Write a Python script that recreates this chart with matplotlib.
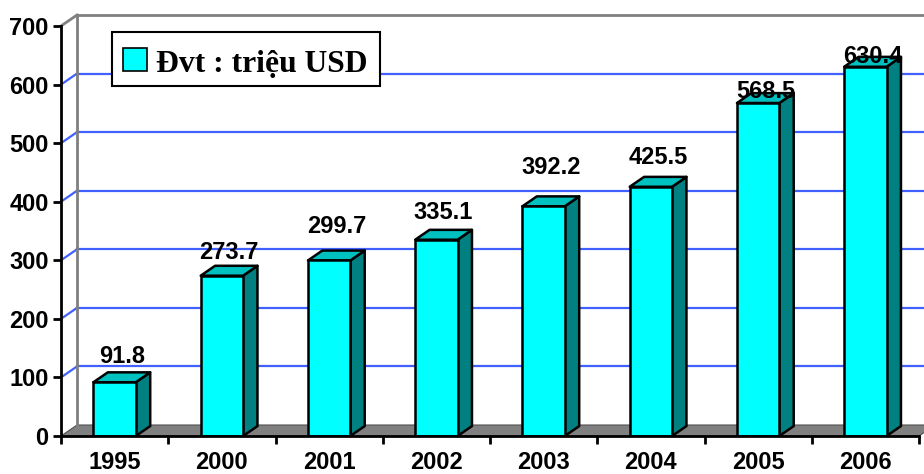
import matplotlib
matplotlib.use("Agg")
import matplotlib.pyplot as plt
from matplotlib.patches import Rectangle, Polygon

# ---- data ----
years = ["1995", "2000", "2001", "2002", "2003", "2004", "2005", "2006"]
values = [91.8, 273.7, 299.7, 335.1, 392.2, 425.5, 568.5, 630.4]
legend_label = "Đvt : triệu USD"
yticks = [0, 100, 200, 300, 400, 500, 600, 700]

# ---- style ----
W, H = 924, 474
FRONT = "#00FFFF"
TOP = "#00C0C0"
SIDE = "#008080"
GRID = "#4060FF"
WALL = "#808080"
FLOOR = "#808080"
FS = 17
label_offsets_px = [9, 7, 18, 11, 22, 13, -5, -6]

plt.rcParams["font.family"] = ["Liberation Sans", "DejaVu Sans"]

fig = plt.figure(figsize=(W / 100, H / 100), dpi=100)
ax_left, ax_right, ax_bottom, ax_top = 61, 919, 436, 26
ax = fig.add_axes([ax_left / W, (H - ax_bottom) / H,
                   (ax_right - ax_left) / W, (ax_bottom - ax_top) / H])
n = len(years)
ax.set_xlim(0, n)
ax.set_ylim(0, 700)

px_x = (ax_right - ax_left) / n          # pixels per category
px_y = (ax_bottom - ax_top) / 700.0      # pixels per unit
dxd = 16 / px_x
dyd = 11 / px_y
bdx = 0.9 * dxd
bdy = 0.9 * dyd

# back wall (white) + floor
ax.add_patch(Polygon([(dxd, dyd), (n + dxd, dyd), (n + dxd, 700 + dyd), (dxd, 700 + dyd)],
                     closed=True, fc="white", ec="none", zorder=0, clip_on=False))
ax.add_patch(Polygon([(0, 0), (n, 0), (n + dxd, dyd), (dxd, dyd)], closed=True,
                     fc=FLOOR, ec="#505050", lw=0.8, zorder=1, clip_on=False))

# gridlines on back wall and side wall
for yv in yticks[1:-1]:
    ax.plot([dxd, n + dxd], [yv + dyd, yv + dyd], color=GRID, lw=1.6, zorder=1, clip_on=False)
    ax.plot([0, dxd], [yv, yv + dyd], color=GRID, lw=1.6, zorder=1, clip_on=False)
top = yticks[-1]
ax.plot([dxd, n + dxd], [top + dyd, top + dyd], color=WALL, lw=2, zorder=1, clip_on=False)
ax.plot([0, dxd], [top, top + dyd], color=WALL, lw=2, zorder=1, clip_on=False)
ax.plot([dxd, dxd], [dyd, top + dyd], color=WALL, lw=2, zorder=1, clip_on=False)

# bars
w = 0.395
for i, v in enumerate(values):
    c = i + 0.5
    x0, x1 = c - w / 2, c + w / 2
    ax.add_patch(Polygon([(x1, 0), (x1 + bdx, bdy), (x1 + bdx, v + bdy), (x1, v)], closed=True,
                         fc=SIDE, ec="black", lw=1.8, zorder=3, joinstyle="round"))
    ax.add_patch(Polygon([(x0, v), (x1, v), (x1 + bdx, v + bdy), (x0 + bdx, v + bdy)], closed=True,
                         fc=TOP, ec="black", lw=1.8, zorder=3, joinstyle="round"))
    ax.add_patch(Rectangle((x0, 0), w, v, fc=FRONT, ec="black", lw=1.8, zorder=4))
    ax.annotate(f"{v:.1f}", xy=(c + bdx / 2, v + bdy), xytext=(0, label_offsets_px[i] * 0.72),
                textcoords="offset points", ha="center", va="baseline",
                fontsize=FS, fontweight="bold", zorder=6, annotation_clip=False)

# axes
for s in ["top", "right"]:
    ax.spines[s].set_visible(False)
for s in ["left", "bottom"]:
    ax.spines[s].set_linewidth(2)
    ax.spines[s].set_zorder(5)
ax.set_yticks(yticks)
ax.set_yticklabels([str(t) for t in yticks], fontsize=FS, fontweight="bold")
ax.tick_params(axis="y", direction="out", length=6, width=2, pad=3)
ax.set_xticks(range(n + 1))
ax.set_xticklabels([""] * (n + 1))
ax.tick_params(axis="x", which="major", direction="out", length=6, width=2)
ax.set_xticks([i + 0.5 for i in range(n)], minor=True)
ax.set_xticklabels(years, minor=True, fontsize=FS, fontweight="bold")
ax.tick_params(axis="x", which="minor", length=0, pad=11)
ax.patch.set_visible(False)

# legend (manual)
fig.add_artist(Rectangle((112 / W, (H - 86) / H), 268 / W, 54 / H, transform=fig.transFigure,
                         fc="white", ec="black", lw=1.5, zorder=10))
fig.add_artist(Rectangle((123 / W, (H - 71) / H), 24 / W, 23 / H, transform=fig.transFigure,
                         fc=FRONT, ec="black", lw=1.2, zorder=11))
fig.text(156 / W, (H - 72) / H, legend_label, fontsize=22.8, fontweight="bold",
         family=["Liberation Serif", "DejaVu Serif"], ha="left", va="baseline", zorder=12)

fig.savefig("out.png", dpi=100)
